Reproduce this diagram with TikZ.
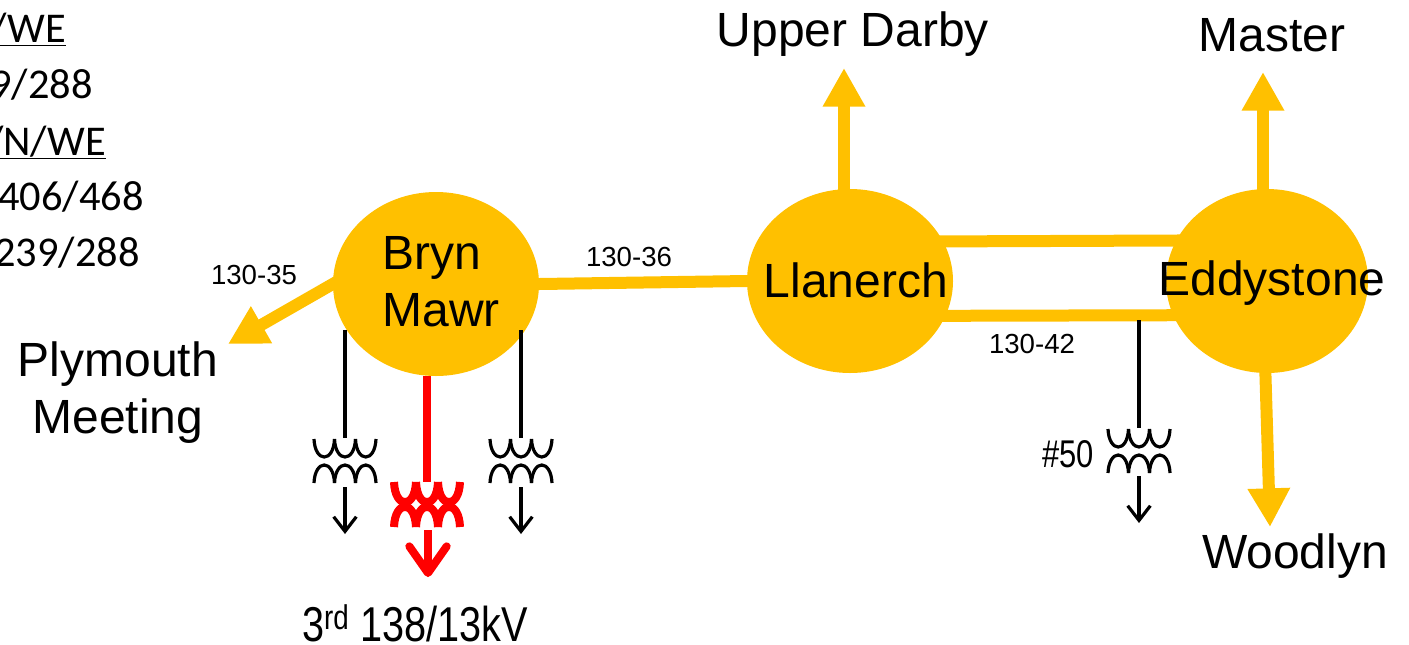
\documentclass[tikz,border=0pt]{standalone}
\usepackage{graphicx}
\usepackage{fontspec}
\setmainfont{Liberation Sans}
\newfontfamily\carl{Carlito}
\usetikzlibrary{arrows.meta,shapes.geometric}
\definecolor{gold}{HTML}{FFC000}
\tikzset{
  bus/.style={ellipse,fill=gold,draw=none,inner sep=0pt,minimum width=#1*.75pt,minimum height=184*.75pt},
  big/.style={inner sep=0pt,align=center,font=\fontsize{36}{42.75}\selectfont},
  small/.style={inner sep=0pt,font=\fontsize{20.7}{24}\selectfont},
  side/.style={inner sep=0pt,anchor=base east,font=\carl\fontsize{31.8}{36}\selectfont},
  feeder/.style={draw=gold,line width=9pt,shorten <=-5pt},
  feederline/.style={feeder,shorten >=-5pt},
  feederarrow/.style={feeder,-{Triangle[length=29pt,width=30pt]}},
  thin/.style={draw=black,line width=2.4pt},
  thinarrow/.style={thin,-{Straight Barb[length=11pt,width=17pt,line width=2.4pt]}},
  hot/.style={draw=red,line width=6pt},
  hotarrow/.style={hot,-{Straight Barb[length=20pt,width=28pt,line width=6pt,round]}},
  coil/.pic={
    \foreach \a/\b in {-31/-10.5,-10.5/10.5,10.5/31}{
      \draw[pic actions,fill=none] (\a,0) .. controls (\a+1,24) and (\b-1,24) .. (\b,0);
      \draw[pic actions,fill=none] (\a,44) .. controls (\a+1,20) and (\b-1,20) .. (\b,44);
    }
  },
  hotcoil/.pic={
    \foreach \a/\b in {-33/-11,-11/11,11/33}{
      \draw[pic actions,fill=none] (\a,0) .. controls (\a+1,27) and (\b-1,27) .. (\b,0);
      \draw[pic actions,fill=none] (\a,45) .. controls (\a+1,18) and (\b-1,18) .. (\b,45);
    }
  }
}
\begin{document}
\begin{tikzpicture}[x=.75pt,y=-.75pt]
\useasboundingbox (0,0) rectangle (1409,644);
% buses
\node[bus=206] (bm) at (436,284) {};
\node[bus=206] (ll) at (850,281) {};
\node[bus=202] (ed) at (1267,281) {};
% bus labels
\node[big,align=left] (bmt) at (441,282) {Bryn\\Mawr};
\node[big] (llt) at (856,280) {Llanerch};
\node[big] (edt) at (1272,283) {Eddystone};
% outer labels
\node[big] (ud) at (853,34) {Upper Darby};
\node[big] (ma) at (1272,35) {Master};
\node[big] (wo) at (1295,556) {Woodlyn};
\node[big] (pm) at (118,393) {Plymouth\\Meeting};
\coordinate (udtip) at (844,68);
\coordinate (matip) at (1263,72);
\coordinate (wotip) at (1270,527);
\coordinate (pmtip) at (228,344);
% feeders
\draw[feederarrow] (ll.north -| udtip) -- (udtip);
\draw[feederarrow] (ed.north -| matip) -- (matip);
\draw[feederarrow] (ed.-91) -- (wotip);
\draw[feederarrow] (bm.180) -- (pmtip);
\draw[feederline] (bm.east) -- (ll.west);
\draw[feederline] (ll.23) -- (ed.156);
\draw[feederline] (ll.-20) -- (ed.200);
% line labels
\node[small] (l35) at (254,275) {130-35};
\node[small] (l36) at (629,257) {130-36};
\node[small] (l42) at (1032,344) {130-42};
% side text
\node[side] (s1) at (66,42) {\underline{/WE}};
\node[side] (s2) at (93,98) {9/288};
\node[side] (s3) at (106,155) {\underline{/N/WE}};
\node[side] (s4) at (144,210) {406/468};
\node[side] (s5) at (140,266) {239/288};
% transformers
\coordinate (t1s) at (345,330);
\coordinate (t2s) at (521,330);
\coordinate (t3s) at (1139,320);
\coordinate (t1) at (345,438);
\coordinate (t2) at (521,438);
\coordinate (t3) at (1139,428);
\coordinate (t4) at (427,482);
\coordinate (t1c) at (345,439);
\coordinate (t2c) at (521,439);
\coordinate (t3c) at (1139,429);
\coordinate (t1a) at (345,487);
\coordinate (t2a) at (521,487);
\coordinate (t3a) at (1139,476);
\coordinate (t4a) at (428,530);
\coordinate (t1e) at (345,534);
\coordinate (t2e) at (521,534);
\coordinate (t3e) at (1139,523);
\coordinate (t4e) at (428,577);
\draw[thin] (t1s) -- (t1);
\draw[thin] (t2s) -- (t2);
\draw[thin] (t3s) -- (t3);
\draw[hot] (bm.south -| t4) -- (t4);
\path[thin] pic at (t1c) {coil};
\path[thin] pic at (t2c) {coil};
\path[thin] pic at (t3c) {coil};
\path[hot] pic at (t4) {hotcoil};
\draw[thinarrow] (t1a) -- (t1e);
\draw[thinarrow] (t2a) -- (t2e);
\draw[thinarrow] (t3a) -- (t3e);
\draw[hotarrow] (t4a) -- (t4e);
\node[inner sep=0pt,font=\fontsize{29}{34}\selectfont] (n50) at (1068,454) {\scalebox{.8}[1]{\#50}};
\node[inner sep=0pt,font=\fontsize{36.7}{40}\selectfont] (n3) at (415,623) {\scalebox{.81}[1]{3\textsuperscript{rd} 138/13kV}};
\end{tikzpicture}
\end{document}
